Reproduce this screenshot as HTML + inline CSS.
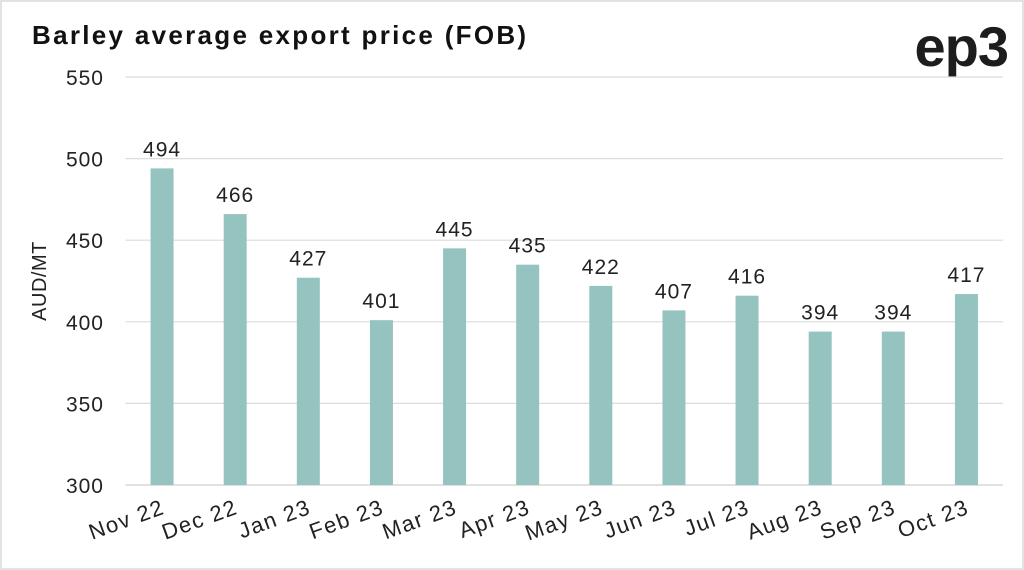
<!DOCTYPE html>
<html><head><meta charset="utf-8"><style>
html,body{margin:0;padding:0;background:#fff}
#wrap{position:relative;width:1024px;height:570px;box-sizing:border-box;border:2px solid #e2e2e2;background:#fff;overflow:hidden}
svg{position:absolute;left:-2px;top:-2px}
text{font-family:"Liberation Sans",sans-serif}
</style></head><body>
<div id="wrap">
<svg id="c" width="1024" height="570">
<text x="32" y="44" font-size="26" font-weight="bold" fill="#111" letter-spacing="2.3">Barley average export price (FOB)</text>
<text x="1008" y="66" font-size="56" font-weight="bold" fill="#1d1d1d" text-anchor="end" letter-spacing="-1">ep3</text>
<text transform="translate(46,281) rotate(-90)" font-size="20" fill="#222" text-anchor="middle" letter-spacing="0.5">AUD/MT</text>
</svg>
</div>
<script>
const categories=["Nov 22","Dec 22","Jan 23","Feb 23","Mar 23","Apr 23","May 23","Jun 23","Jul 23","Aug 23","Sep 23","Oct 23"];
const values=[494,466,427,401,445,435,422,407,416,394,394,417];
const yTicks=[300,350,400,450,500,550];
const svg=document.getElementById('c');const NS='http://www.w3.org/2000/svg';
const x0=125.5,x1=1003,yMin=300,yMax=550,yTop=77,yBot=485;
const band=(x1-x0)/categories.length;
const xC=i=>x0+band*(i+0.5);
const y=v=>yBot-(v-yMin)/(yMax-yMin)*(yBot-yTop);
function mk(t,a){const e=document.createElementNS(NS,t);for(const k in a)e.setAttribute(k,a[k]);svg.appendChild(e);return e;}
yTicks.forEach(t=>{
 const l=mk('line',{x1:x0,x2:x1,y1:y(t),y2:y(t),stroke:t===yMin?'#cfcfcf':'#dcdcdc','stroke-width':1.2});
 
 
 const tx=mk('text',{x:104,y:y(t)+8,'font-size':21,fill:'#222','text-anchor':'end','letter-spacing':1});tx.textContent=t;
 
 
});
const bw=23;
values.forEach((v,i)=>{
 const r=mk('rect',{x:xC(i)-bw/2,y:y(v),width:bw,height:yBot-y(v),fill:'#94c3c0'});
 
 
 const lb=mk('text',{x:xC(i),y:y(v)-12,'font-size':21,fill:'#222','text-anchor':'middle','letter-spacing':1});lb.textContent=v;
 
 
 const xl=mk('text',{transform:`translate(${xC(i)+4},${513}) rotate(-20)`,'font-size':22,fill:'#222','text-anchor':'end','letter-spacing':1.5});xl.textContent=categories[i];
 
 
});
</script>
</body></html>
